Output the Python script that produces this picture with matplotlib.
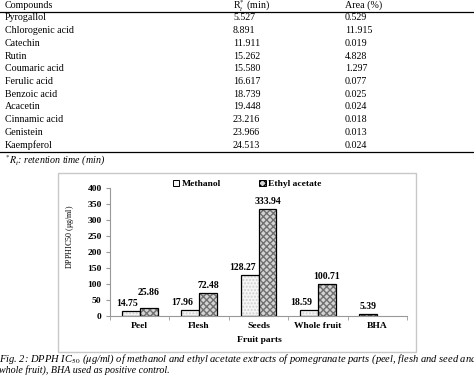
import matplotlib.pyplot as plt
from matplotlib.patches import Patch
import numpy as np

plt.rcParams['font.family'] = ['Liberation Serif', 'DejaVu Serif']
plt.rcParams['mathtext.fontset'] = 'stix'

# table data
compounds = ['Pyrogallol', 'Chlorogenic acid', 'Catechin', 'Rutin', 'Coumaric acid',
             'Ferulic acid', 'Benzoic acid', 'Acacetin', 'Cinnamic acid', 'Genistein',
             'Kaempferol']
rt_min = ['5.527', '8.891', '11.911', '15.262', '15.580', '16.617', '18.739',
          '19.448', '23.216', '23.966', '24.513']
area_pct = ['0.529', '11.915', '0.019', '4.828', '1.297', '0.077', '0.025',
            '0.024', '0.018', '0.013', '0.024']

# chart data
parts = ['Peel', 'Flesh', 'Seeds', 'Whole fruit', 'BHA']
methanol = [14.75, 17.96, 128.27, 18.59, 5.39]
ethyl_acetate = [25.86, 72.48, 333.94, 100.71, None]

W, H = 474, 376
fig = plt.figure(figsize=(W / 100, H / 100), dpi=100)
fig.patch.set_facecolor('white')


def fx(px):
    return px / W


def fy(py):
    return 1 - py / H


# ---- table ----
fs = 7.2
fig.text(fx(5), fy(5.5), 'Compounds', fontsize=fs, va='center')
fig.text(fx(233), fy(6.5), r'R$_{t}^{*}$ (min)', fontsize=fs, va='center')
fig.text(fx(345), fy(5.5), 'Area (%)', fontsize=fs, va='center')
fig.add_artist(plt.Line2D([0, 1], [fy(11.5), fy(11.5)], color='black', lw=0.9))
for i, (c, r, a) in enumerate(zip(compounds, rt_min, area_pct)):
    y = fy(18 + i * 12.7)
    fig.text(fx(5), y, c, fontsize=fs, va='center')
    fig.text(fx(233), y, r, fontsize=fs, va='center')
    fig.text(fx(345), y, a, fontsize=fs, va='center')
fig.add_artist(plt.Line2D([0, 1], [fy(152), fy(152)], color='black', lw=0.9))
fig.text(fx(5), fy(161), r'$^{*}R_{t}$: retention time (min)', fontsize=fs,
         style='italic', va='center')

# ---- chart box ----
box = plt.Rectangle((fx(58), fy(352)), fx(416 - 58), (352 - 173) / H,
                    transform=fig.transFigure, fill=False, edgecolor='#c8c8c8', lw=1)
fig.add_artist(box)

ax = fig.add_axes([fx(110), fy(316), fx(407 - 110), (316 - 188) / H])
x = np.arange(len(parts))
bw = 0.3

m_vals = np.array(methanol)
e_idx = [i for i, v in enumerate(ethyl_acetate) if v is not None]
e_vals = np.array([ethyl_acetate[i] for i in e_idx])

# methanol bars (BHA drawn in the darker style)
ax.bar(x[e_idx] - bw / 2, m_vals[e_idx], bw, facecolor='#f6f6f6', edgecolor='#d0d0d0',
       hatch='.....', lw=0)
ax.bar(x[e_idx] - bw / 2, m_vals[e_idx], bw, fill=False, edgecolor='black', lw=0.9)
ax.bar(x[e_idx] + bw / 2, e_vals, bw, facecolor='#d4d4d4', edgecolor='#707070',
       hatch='xxxxx', lw=0)
ax.bar(x[e_idx] + bw / 2, e_vals, bw, fill=False, edgecolor='black', lw=0.9)
ax.bar(x[4] - bw / 2, m_vals[4], bw, facecolor='#aaaaaa', edgecolor='#444444',
       hatch='xxxxx', lw=0)
ax.bar(x[4] - bw / 2, m_vals[4], bw, fill=False, edgecolor='black', lw=0.9)

# value labels
lab_kw = dict(fontsize=7, fontweight='bold', ha='center', va='center',
              textcoords='offset points')
m_dx = {0: -2.5, 1: -5.5, 2: -5, 3: -5.5, 4: 0}
e_dy = {0: 10.8}
for i, v in enumerate(methanol):
    ax.annotate(f'{v:.2f}', (x[i] - bw / 2, v), xytext=(m_dx[i], 5.4), **lab_kw)
for i in e_idx:
    v = ethyl_acetate[i]
    ax.annotate(f'{v:.2f}', (x[i] + bw / 2, v), xytext=(0, e_dy.get(i, 5.4)), **lab_kw)

ax.set_ylim(0, 400)
ax.set_xlim(-0.5, len(parts) - 0.5)
ax.set_yticks(np.arange(0, 401, 50))
ax.set_yticklabels([str(t) for t in range(0, 401, 50)], fontsize=6.8, fontweight='bold')
ax.set_xticks(x)
ax.set_xticklabels(parts, fontsize=6.8, fontweight='bold')
ax.set_xticks(np.arange(-0.5, len(parts)), minor=True)
ax.tick_params(axis='x', which='major', length=0, pad=4)
ax.tick_params(axis='x', which='minor', length=3, color='#999999')
ax.tick_params(axis='y', length=3, color='#999999', pad=3)
for s in ['top', 'right']:
    ax.spines[s].set_visible(False)
for s in ['left', 'bottom']:
    ax.spines[s].set_color('#999999')
    ax.spines[s].set_linewidth(0.8)
ax.set_facecolor('none')

fig.text(fx(259), fy(340), 'Fruit parts', fontsize=6.8, fontweight='bold',
         ha='center', va='center')
fig.text(fx(70), fy(237), r'DPPHIC50 ($\mathrm{\mu}$g/ml)', fontsize=5.8,
         rotation=90, ha='center', va='center')

# legend
handles = [Patch(facecolor='#f6f6f6', edgecolor='black', lw=0.7),
           Patch(facecolor='#d4d4d4', edgecolor='black', hatch='xxxx', lw=0.7)]
fig.legend(handles, ['Methanol', 'Ethyl acetate'], ncol=2, frameon=False,
           loc='center left', bbox_to_anchor=(fx(164), fy(184)),
           prop={'size': 6.8, 'weight': 'bold'}, handlelength=0.7, handleheight=0.7,
           handletextpad=0.3, columnspacing=4.0)

# caption
fig.text(fx(-1), fy(359.5),
         r'Fig. 2: DPPH IC$_{\mathit{50}}$ ($\mathit{\mu}$g/ml) of methanol and ethyl acetate '
         r'extracts of pomegranate parts (peel, flesh and seed and',
         fontsize=7.6, style='italic', va='center')
fig.text(fx(-1), fy(370), 'whole fruit), BHA used as positive control.',
         fontsize=7.2, style='italic', va='center')

fig.savefig('out.png', dpi=100)
